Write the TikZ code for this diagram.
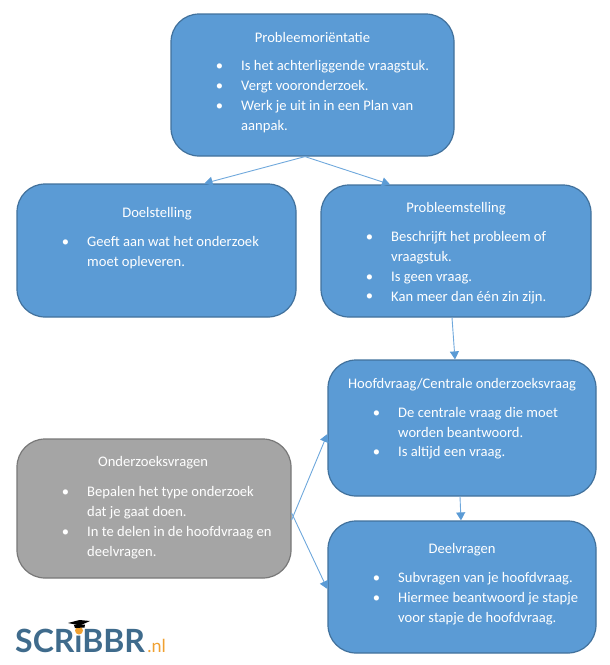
\documentclass[tikz,border=0pt]{standalone}
\usepackage{fontspec}
\setmainfont{Carlito}
\newfontfamily\logofont{Lato}
\usepackage{xcolor}
\usetikzlibrary{arrows.meta, positioning}

\definecolor{blokblauw}{HTML}{5B9BD5}
\definecolor{blokrand}{HTML}{41719C}
\definecolor{bloklijn}{HTML}{6FA8DC}
\definecolor{blokgrijs}{HTML}{A5A5A5}
\definecolor{grijsrand}{HTML}{787878}
\definecolor{logoblauw}{HTML}{3F6B8C}
\definecolor{logooranje}{HTML}{F0A030}

\newcommand{\pnt}{\llap{\raisebox{0.3pt}{\textbullet}\hspace{18pt}}}

\tikzset{
    blok/.style={draw=blokrand, fill=blokblauw, line width=1.2pt, rounded corners=28pt, inner sep=0pt},
    grijsblok/.style={blok, draw=grijsrand, fill=blokgrijs},
    titel/.style={text=white, font=\fontsize{14.6}{19.8}\selectfont, inner sep=0pt},
    punten/.style={text=white, font=\fontsize{14.6}{19.8}\selectfont, align=left, anchor=north west, inner sep=0pt},
    pijl/.style={draw=bloklijn, line width=0.9pt, -{Triangle[length=8pt,width=9pt,color=blokblauw]}}
}

\begin{document}
\begin{tikzpicture}[x=1pt, y=-1pt]
    \useasboundingbox (0,0) rectangle (610,665);

    \node[blok, minimum width=283pt, minimum height=142pt] (orient) at (312.5,85) {};
    \node[blok, minimum width=279pt, minimum height=133pt] (doel) at (156.5,250.5) {};
    \node[blok, minimum width=270pt, minimum height=132pt] (stelling) at (456,251) {};
    \node[blok, minimum width=268pt, minimum height=136pt] (hoofd) at (462,428) {};
    \node[blok, minimum width=268pt, minimum height=132pt] (deel) at (462,587) {};
    \node[grijsblok, minimum width=274pt, minimum height=139pt] (vragen) at (154,508.5) {};

    \node[titel] (orienttitel) at (312.5,37.5) {Probleemoriëntatie};
    \node[punten] (orienttekst) at (241,60.5) {\pnt Is het achterliggende vraagstuk.\\ \pnt Vergt vooronderzoek.\\ \pnt Werk je uit in in een Plan van\\ aanpak.};

    \node[titel] (doeltitel) at (157,214) {Doelstelling};
    \node[punten] (doeltekst) at (87,236.5) {\pnt Geeft aan wat het onderzoek\\ moet opleveren.};

    \node[titel] (stellingtitel) at (456,209) {Probleemstelling};
    \node[punten] (stellingtekst) at (391,231.5) {\pnt Beschrijft het probleem of\\ vraagstuk.\\ \pnt Is geen vraag.\\ \pnt Kan meer dan één zin zijn.};

    \node[titel] (hoofdtitel) at (462,384.5) {Hoofdvraag/Centrale onderzoeksvraag};
    \node[punten] (hoofdtekst) at (398,407) {\pnt De centrale vraag die moet\\ worden beantwoord.\\ \pnt Is altijd een vraag.};

    \node[titel] (deeltitel) at (462,550) {Deelvragen};
    \node[punten] (deeltekst) at (398,572.5) {\pnt Subvragen van je hoofdvraag.\\ \pnt Hiermee beantwoord je stapje\\ voor stapje de hoofdvraag.};

    \node[titel] (vragentitel) at (153,462.5) {Onderzoeksvragen};
    \node[punten] (vragentekst) at (87,486.5) {\pnt Bepalen het type onderzoek\\ dat je gaat doen.\\ \pnt In te delen in de hoofdvraag en\\ deelvragen.};

    \draw[pijl] ([xshift=-7.5pt]orient.south) -- ([xshift=48pt]doel.north);
    \draw[pijl] ([xshift=-7.5pt]orient.south) -- ([xshift=-66pt]stelling.north);
    \draw[pijl] ([xshift=-4pt]stelling.south) -- ([xshift=-7pt]hoofd.north);
    \draw[pijl] ([xshift=-2pt]hoofd.south) -- ([xshift=-1pt]deel.north);
    \draw[pijl] ([yshift=-11.5pt]vragen.east) -- ([yshift=-6pt]hoofd.west);
    \draw[pijl] ([yshift=-4.5pt]vragen.east) -- ([yshift=-2pt]deel.west);

    % logo
    \node[anchor=base west, inner sep=0pt, text=logoblauw, font=\logofont\bfseries\fontsize{32}{32}\selectfont] (logo) at (15,652) {SCR\i BBR};
    \node[anchor=base west, inner sep=0pt, text=logooranje, font=\logofont\fontsize{18}{18}\selectfont] (logonl) at ([xshift=2pt]logo.base east) {.nl};
    \fill[logooranje] (79,630.5) circle (4);
    \fill[black] (68,623) -- (79.5,620) -- (90,621) -- (80,625.5) -- cycle;
    \fill[black] (74,625) -- (85,624.5) -- (84.5,627.5) -- (75,628) -- cycle;
\end{tikzpicture}
\end{document}
